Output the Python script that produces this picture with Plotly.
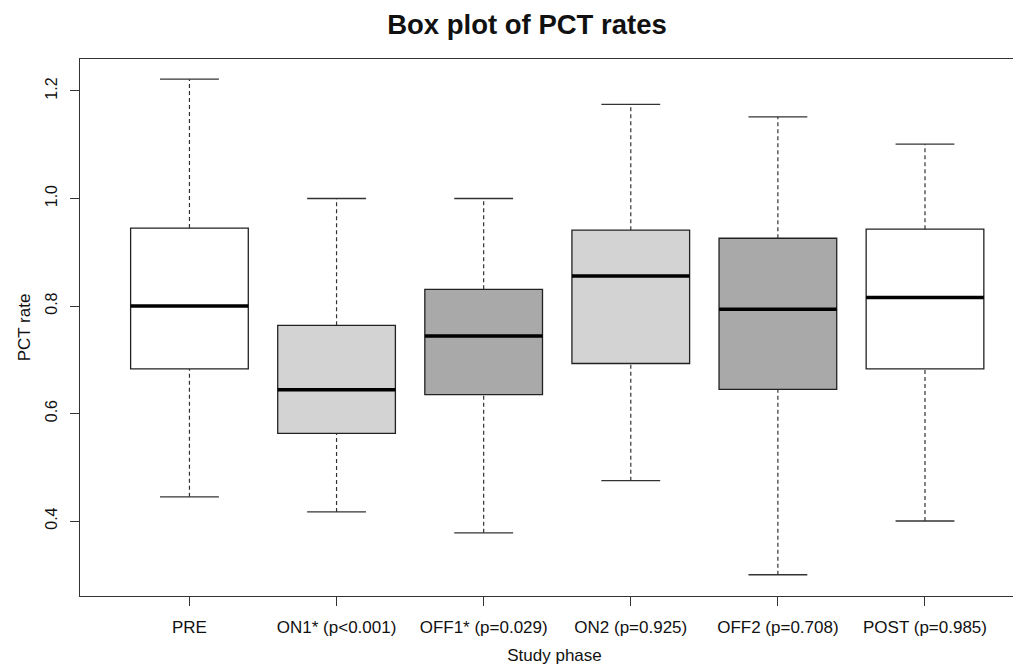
import plotly.graph_objects as go

categories = ["PRE", "ON1* (p<0.001)", "OFF1* (p=0.029)", "ON2 (p=0.925)", "OFF2 (p=0.708)", "POST (p=0.985)"]
whisker_low = [0.445, 0.417, 0.378, 0.475, 0.300, 0.400]
q1 = [0.683, 0.563, 0.635, 0.693, 0.645, 0.683]
median = [0.800, 0.644, 0.744, 0.856, 0.794, 0.816]
q3 = [0.945, 0.764, 0.831, 0.941, 0.926, 0.943]
whisker_high = [1.222, 1.000, 1.000, 1.175, 1.152, 1.101]
fills = ["#FFFFFF", "#D3D3D3", "#A9A9A9", "#D3D3D3", "#A9A9A9", "#FFFFFF"]

positions = list(range(1, len(categories) + 1))
BOXW = 0.8
CAPW = 0.4
FONT = "Liberation Sans, Arial, sans-serif"

fig = go.Figure()

# whiskers (dashed) and caps
for i, x in enumerate(positions):
    fig.add_trace(go.Scatter(x=[x, x], y=[q3[i], whisker_high[i]], mode="lines",
                             line=dict(color="#333333", width=1.2, dash="4px,3px"),
                             showlegend=False, hoverinfo="skip"))
    fig.add_trace(go.Scatter(x=[x, x], y=[whisker_low[i], q1[i]], mode="lines",
                             line=dict(color="#333333", width=1.2, dash="4px,3px"),
                             showlegend=False, hoverinfo="skip"))
    fig.add_trace(go.Scatter(x=[x - CAPW / 2, x + CAPW / 2], y=[whisker_high[i]] * 2, mode="lines",
                             line=dict(color="#333333", width=1.3),
                             showlegend=False, hoverinfo="skip"))
    fig.add_trace(go.Scatter(x=[x - CAPW / 2, x + CAPW / 2], y=[whisker_low[i]] * 2, mode="lines",
                             line=dict(color="#333333", width=1.3),
                             showlegend=False, hoverinfo="skip"))

# boxes
for i, x in enumerate(positions):
    fig.add_trace(go.Box(x=[x], q1=[q1[i]], median=[median[i]], q3=[q3[i]],
                         lowerfence=[q1[i]], upperfence=[q3[i]],
                         width=BOXW, whiskerwidth=0,
                         fillcolor=fills[i], line=dict(color="#222222", width=1.3),
                         showlegend=False, hoverinfo="skip", boxpoints=False))
    # thick median
    fig.add_trace(go.Scatter(x=[x - BOXW / 2, x + BOXW / 2], y=[median[i]] * 2, mode="lines",
                             line=dict(color="#000000", width=3.5),
                             showlegend=False, hoverinfo="skip"))

fig.update_layout(
    width=1021, height=667,
    margin=dict(l=72, r=0, t=51, b=79, autoexpand=False),
    paper_bgcolor="white", plot_bgcolor="white",
    font=dict(family=FONT, color="#111111", size=16),
    title=dict(text="<b>Box plot of PCT rates</b>", x=0.471, xref="paper", xanchor="center",
               y=0.975, yanchor="middle", font=dict(size=27.5, color="#111111")),
    xaxis=dict(range=[0.256, 6.707], tickmode="array", tickvals=positions, ticktext=categories,
               showgrid=False, zeroline=False, showline=True, linecolor="#333333", linewidth=1.3,
               mirror=True, ticks="outside", ticklen=9, tickcolor="#333333", ticklabelstandoff=6,
               tickfont=dict(size=17), title=dict(text="Study phase", font=dict(size=17), standoff=13)),
    yaxis=dict(range=[0.2605, 1.2595], tickvals=[0.4, 0.6, 0.8, 1.0, 1.2],
               ticktext=["0.4", "0.6", "0.8", "1.0", "1.2"], tickangle=-90,
               showgrid=False, zeroline=False, showline=True, linecolor="#333333", linewidth=1.3,
               ticks="outside", ticklen=9, tickcolor="#333333", ticklabelstandoff=6,
               tickfont=dict(size=16), title=dict(text="PCT rate", font=dict(size=17), standoff=8)),
)

fig.write_html("out.html")
